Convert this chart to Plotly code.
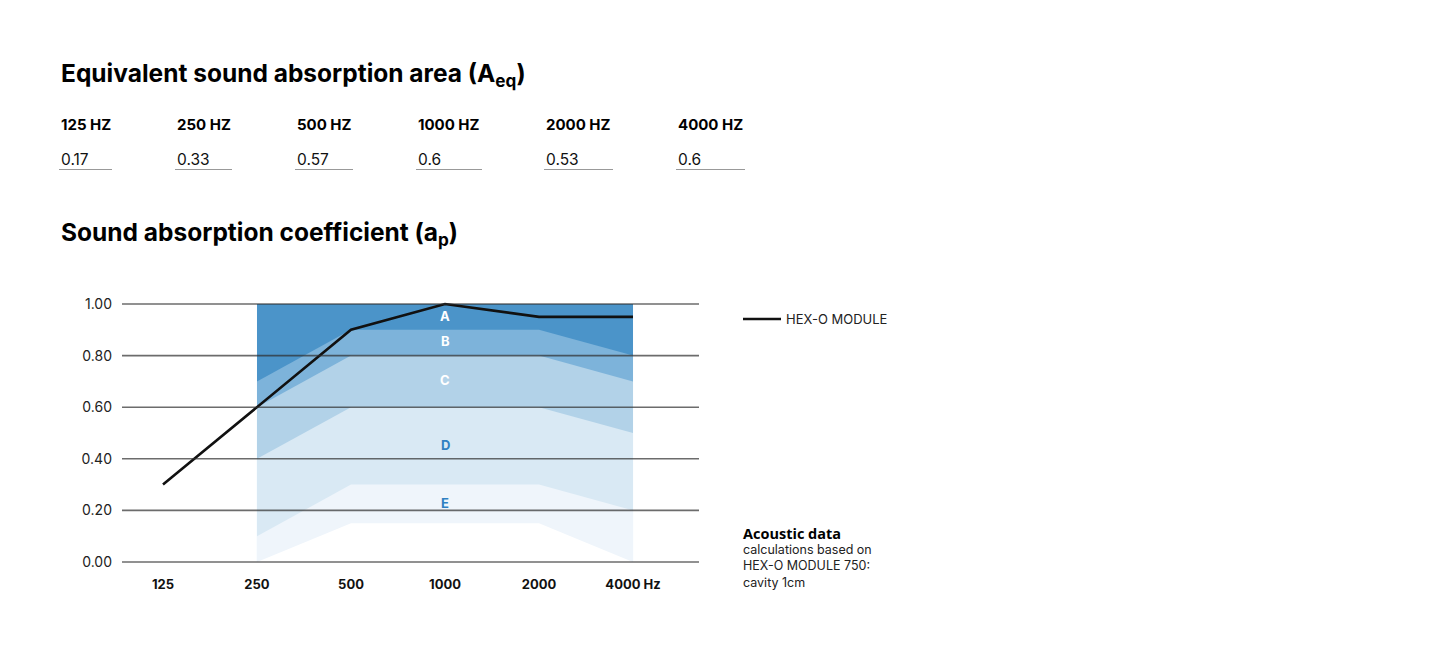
import plotly.graph_objects as go

# ---------------- data ----------------
freqs = ["125", "250", "500", "1000", "2000", "4000"]
freq_tick_labels = ["125", "250", "500", "1000", "2000", "4000 Hz"]
hex_o_module = [0.30, 0.60, 0.90, 1.00, 0.95, 0.95]

band_freqs = ["250", "500", "1000", "2000", "4000"]
class_a_top = [1.00, 1.00, 1.00, 1.00, 1.00]
class_b_top = [0.70, 0.90, 0.90, 0.90, 0.80]
class_c_top = [0.60, 0.80, 0.80, 0.80, 0.70]
class_d_top = [0.40, 0.60, 0.60, 0.60, 0.50]
class_e_top = [0.10, 0.30, 0.30, 0.30, 0.20]
class_e_bottom = [0.00, 0.15, 0.15, 0.15, 0.00]

class_names = ["A", "B", "C", "D", "E"]
class_label_freq = "1000"
class_label_y = [0.955, 0.857, 0.706, 0.455, 0.228]

y_ticks = [0.0, 0.2, 0.4, 0.6, 0.8, 1.0]

aeq_headers = ["125 HZ", "250 HZ", "500 HZ", "1000 HZ", "2000 HZ", "4000 HZ"]
aeq_values = ["0.17", "0.33", "0.57", "0.6", "0.53", "0.6"]

# ---------------- style ----------------
W, H = 1445, 647
OFF = 8  # page body margin
band_colors = ["#4b94c9", "#7db3da", "#b2d2e8", "#d9e9f4", "#eff5fb", "#ffffff"]
label_colors = ["#ffffff", "#ffffff", "#ffffff", "#2f80c2", "#2f80c2"]
FONT = "Inter, Liberation Sans, Arial, sans-serif"

def px_x(p):
    return (p - OFF) / W

def px_y(p):
    return 1 - (p - OFF) / H

fig = go.Figure()

band_tops = [class_a_top, class_b_top, class_c_top, class_d_top, class_e_top, class_e_bottom]
for tops, col in zip(band_tops, band_colors):
    fig.add_trace(go.Scatter(
        x=band_freqs, y=tops, mode="lines", line=dict(width=0, color=col),
        fill="tozeroy", fillcolor=col, showlegend=False, hoverinfo="skip"))

fig.add_trace(go.Scatter(
    x=freqs, y=hex_o_module, mode="lines", name="HEX-O MODULE",
    line=dict(color="#111111", width=2.6), showlegend=True))

label_idx = freqs.index(class_label_freq)
for name, yy, col in zip(class_names, class_label_y, label_colors):
    fig.add_annotation(x=label_idx, y=yy, xref="x", yref="y", text=f"<b>{name}</b>",
                       showarrow=False, font=dict(family=FONT, size=13, color=col))

# gridlines above the bands
for t in y_ticks:
    fig.add_shape(type="line", xref="x domain", yref="y", x0=0, x1=1, y0=t, y1=t,
                  line=dict(color="rgba(45,45,45,0.7)", width=1.6), layer="above")

# plot area: x 122..699 px, y value 0 at 562px, 1 at 304px
ypad = 0.03
top_px = 304 - ypad * 258
bot_px = 562 + ypad * 258

fig.update_layout(
    width=W, height=H, autosize=False,
    margin=dict(l=0, r=0, t=0, b=0),
    paper_bgcolor="white", plot_bgcolor="white",
    font=dict(family=FONT, color="#111111"),
    xaxis=dict(domain=[px_x(122), px_x(699)], type="category", categoryorder="array",
               categoryarray=freqs, tickvals=freqs, ticktext=freq_tick_labels,
               range=[-0.436, 5.702], showgrid=False, zeroline=False, showline=False,
               ticks="", ticklabelstandoff=5,
               tickfont=dict(family=FONT, size=13, color="#111111", weight="bold")),
    yaxis=dict(domain=[px_y(bot_px), px_y(top_px)], range=[-ypad, 1 + ypad],
               tickvals=y_ticks, ticktext=[f"{v:.2f}" for v in y_ticks],
               showgrid=False, zeroline=False, showline=False, ticks="",
               ticklabelstandoff=9,
               tickfont=dict(family=FONT, size=14, color="#222222")),
    legend=dict(x=px_x(738), y=px_y(319), xanchor="left", yanchor="middle",
                itemwidth=38,
                bgcolor="rgba(0,0,0,0)", font=dict(family=FONT, size=13, color="#222222")),
    showlegend=True,
)

# titles
fig.add_annotation(x=px_x(59), y=px_y(74), xref="paper", yref="paper", xanchor="left",
                   yanchor="middle", showarrow=False,
                   text="<b>Equivalent sound absorption area (A<sub>eq</sub>)</b>",
                   font=dict(family=FONT, size=24.5, color="#000000"))
fig.add_annotation(x=px_x(59), y=px_y(234), xref="paper", yref="paper", xanchor="left",
                   yanchor="middle", showarrow=False,
                   text="<b>Sound absorption coefficient (a<sub>p</sub>)</b>",
                   font=dict(family=FONT, size=24.5, color="#000000"))

# Aeq table
col_x = [59, 175, 295, 416, 544, 676]
col_w = [53, 57, 58, 66, 69, 69]
for cx, cw, hdr, val in zip(col_x, col_w, aeq_headers, aeq_values):
    fig.add_annotation(x=px_x(cx), y=px_y(124.5), xref="paper", yref="paper", xanchor="left",
                       yanchor="middle", showarrow=False, text=f"<b>{hdr}</b>",
                       font=dict(family=FONT, size=15, color="#000000"))
    fig.add_annotation(x=px_x(cx), y=px_y(159.5), xref="paper", yref="paper", xanchor="left",
                       yanchor="middle", showarrow=False, text=val,
                       font=dict(family=FONT, size=15.5, color="#111111"))
    fig.add_shape(type="line", xref="paper", yref="paper", x0=px_x(cx), x1=px_x(cx + cw),
                  y0=px_y(169.5), y1=px_y(169.5), line=dict(color="#999999", width=1))

# acoustic data note
fig.add_annotation(x=px_x(741), y=px_y(522), xref="paper", yref="paper", xanchor="left",
                   yanchor="top", showarrow=False, align="left",
                   text="<b>Acoustic data</b>",
                   font=dict(family="Open Sans, DejaVu Sans, sans-serif", size=14.5, color="#000000"))
fig.add_annotation(x=px_x(741), y=px_y(540), xref="paper", yref="paper", xanchor="left",
                   yanchor="top", showarrow=False, align="left",
                   text="calculations based on<br>HEX-O MODULE 750:<br>cavity 1cm",
                   font=dict(family=FONT, size=12.5, color="#222222"))

fig.write_html("out.html")
